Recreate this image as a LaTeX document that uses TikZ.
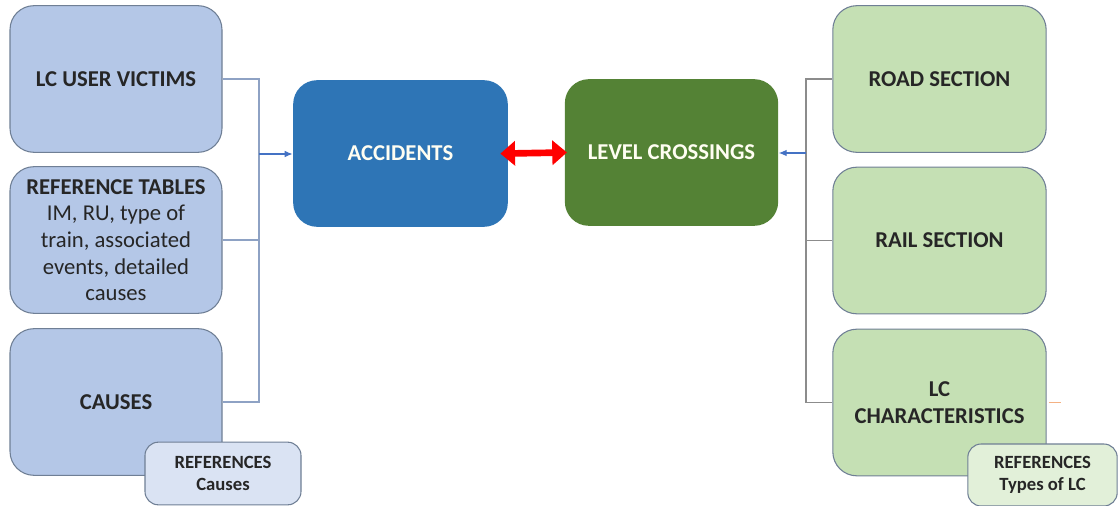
\documentclass[tikz,border=0pt]{standalone}
\usepackage{fontspec}
\setmainfont{Carlito}
\usepackage{xcolor}
\usetikzlibrary{arrows.meta}

\definecolor{bluefill}{HTML}{B4C7E7}
\definecolor{blueref}{HTML}{DAE3F3}
\definecolor{greenfill}{HTML}{C5E0B4}
\definecolor{greenref}{HTML}{E2F0D9}
\definecolor{accblue}{HTML}{2E75B6}
\definecolor{lcgreen}{HTML}{548235}
\definecolor{edgegray}{HTML}{6F7F95}
\definecolor{linkblue}{HTML}{8EA2C4}
\definecolor{linkgray}{HTML}{8C8C8C}
\definecolor{arrowblue}{HTML}{4472C4}
\definecolor{ticko}{HTML}{F4B183}

\tikzset{
  box/.style={draw=edgegray, line width=0.8pt, rounded corners=18pt, align=center,
    text=black!85, font=\bfseries\fontsize{17}{20}\selectfont,
    minimum width=159pt, minimum height=110pt, inner sep=2pt},
  leftbox/.style={box, fill=bluefill},
  rightbox/.style={box, fill=greenfill, minimum width=160pt},
  mainbox/.style={box, draw=none, text=white!95!yellow, minimum width=161pt},
  refbox/.style={draw=edgegray, line width=0.8pt, rounded corners=10pt, align=center,
    text=black!85, font=\bfseries\fontsize{14}{16.5}\selectfont, inner sep=1pt},
  leftlink/.style={draw=linkblue, line width=0.9pt},
  rightlink/.style={draw=linkgray, line width=0.9pt},
  feed/.style={draw=arrowblue, line width=0.9pt, -{Latex[length=6pt,width=5pt]}}
}

\begin{document}
\begin{tikzpicture}[x=0.75pt,y=-0.75pt]
	\useasboundingbox (0,0) rectangle (1118,506);
	
	% left column
	\node[leftbox] (victims) at (116,79) {LC USER VICTIMS};
	\node[leftbox, font=\fontsize{17}{20}\selectfont] (tables) at (116,240)
		{\textbf{REFERENCE TABLES}\\IM, RU, type of\\train, associated\\events, detailed\\causes};
	\node[leftbox] (causes) at (116,402) {CAUSES};
	\node[refbox, fill=blueref, minimum width=117pt, minimum height=47pt] (refcauses) at (223,473.5) {REFERENCES\\Causes};
	
	% centre
	\node[mainbox, fill=accblue] (accidents) at (400.5,153.5) {ACCIDENTS};
	\node[mainbox, fill=lcgreen, minimum width=160pt] (crossings) at (671.5,152.5) {LEVEL CROSSINGS};
	
	% right column
	\node[rightbox] (road) at (939.5,79) {ROAD SECTION};
	\node[rightbox] (rail) at (939.5,240.5) {RAIL SECTION};
	\node[rightbox] (lcchar) at (939.5,402.5) {LC\\CHARACTERISTICS};
	\node[refbox, fill=greenref, minimum width=112pt, minimum height=46.5pt] (reftypes) at (1042.5,475) {REFERENCES\\Types of LC};
	
	% connectors left
	\coordinate (ljoin) at (259,154);
	\draw[leftlink] (victims.east) -| (ljoin) |- (causes.east);
	\draw[leftlink] (tables.east) -- (tables.east -| ljoin);
	\draw[feed] (ljoin) -- (accidents.west |- ljoin);
	
	% connectors right
	\coordinate (rjoin) at (806,153);
	\draw[rightlink] (road.west) -| (rjoin) |- (lcchar.west);
	\draw[rightlink] (rail.west) -- (rail.west -| rjoin);
	\draw[feed] (rjoin) -- (crossings.east |- rjoin);
	
	% accidents <-> crossings
	\draw[red, line width=5pt, {Triangle[length=11pt,width=18pt]}-{Triangle[length=11pt,width=18pt]},
		shorten <=-6pt, shorten >=-2pt] (accidents.east) -- (crossings.west);
	
	\draw[ticko, line width=0.8pt] (lcchar.east) ++(2,0) coordinate (tk) -- ++(12,0);
\end{tikzpicture}
\end{document}
